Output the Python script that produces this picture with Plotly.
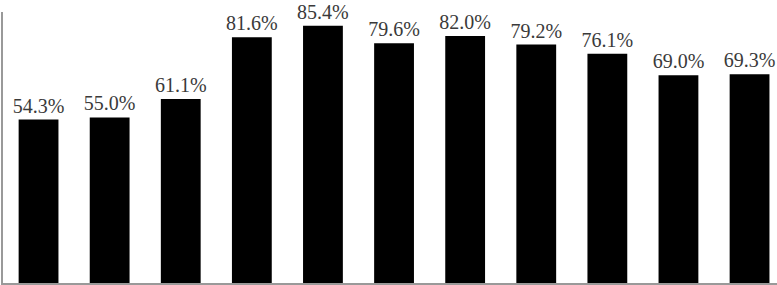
import plotly.graph_objects as go

categories = ["1", "2", "3", "4", "5", "6", "7", "8", "9", "10", "11"]
values = [54.3, 55.0, 61.1, 81.6, 85.4, 79.6, 82.0, 79.2, 76.1, 69.0, 69.3]
labels = [f"{v:.1f}%" for v in values]

fig = go.Figure(go.Bar(
    x=list(range(len(categories))),
    y=values,
    text=labels,
    textposition="outside",
    constraintext="none",
    cliponaxis=False,
    marker=dict(color="#000000", line=dict(width=0)),
    width=0.56,
    textfont=dict(family="Liberation Serif", size=20, color="#3a3a3a"),
))

fig.update_layout(
    width=777, height=285,
    margin=dict(l=3, r=0, t=12, b=2),
    paper_bgcolor="white", plot_bgcolor="white",
    showlegend=False,
    xaxis=dict(range=[-0.5, 10.386], showticklabels=False, ticks="",
               showgrid=False, zeroline=False, showline=True,
               linecolor="#999999", linewidth=1.5),
    yaxis=dict(range=[0, 90], showticklabels=False, ticks="",
               showgrid=False, zeroline=False, showline=True,
               linecolor="#999999", linewidth=1.5),
)

fig.write_html("out.html", config={"displayModeBar": False},
               post_script="document.body.style.margin='0';document.body.style.overflow='hidden';")
